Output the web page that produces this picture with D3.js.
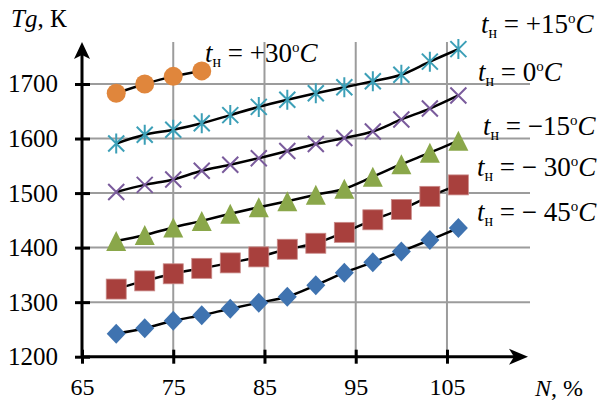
<!DOCTYPE html>
<html>
<head>
<meta charset="utf-8">
<script src="https://cdn.jsdelivr.net/npm/d3@7"></script>
</head>
<body style="margin:0;background:#fff">
<svg id="chart" width="598" height="401"></svg>
<script>
// engine load, %
const loads = [68.75, 71.875, 75, 78.125, 81.25, 84.375, 87.5, 90.625, 93.75, 96.875, 100, 103.125, 106.25];

// gas temperature Tg, K, for each ambient temperature
const tgPlus30 = [1683, 1700, 1714, 1724];
const tgPlus15 = [1591, 1607, 1616, 1628, 1643, 1658, 1671, 1683, 1694, 1705, 1717, 1741, 1764];
const tgZero = [1502, 1515, 1525, 1541, 1552, 1564, 1577, 1590, 1601, 1613, 1635, 1655, 1679];
const tgMinus15 = [1412, 1423, 1437, 1449, 1462, 1474, 1485, 1497, 1508, 1530, 1553, 1574, 1596];
const tgMinus30 = [1324, 1339, 1352, 1362, 1372, 1383, 1397, 1408, 1428, 1451, 1470, 1494, 1515];
const tgMinus45 = [1242, 1252, 1266, 1276, 1288, 1299, 1310, 1331, 1354, 1373, 1393, 1414, 1436];

const xTicks = [65, 75, 85, 95, 105];
const yTicks = [1200, 1300, 1400, 1500, 1600, 1700];

const series = [
  { values: tgMinus45, marker: "diamond", color: "#3f73b0", label: ["= \u2212 45", "C"] },
  { values: tgMinus30, marker: "square", color: "#a8403d", label: ["= \u2212 30", "C"] },
  { values: tgMinus15, marker: "triangle", color: "#8aa74a", label: ["= \u221215", "C"] },
  { values: tgZero, marker: "x", color: "#7a5b9c", label: ["= 0", "C"] },
  { values: tgPlus15, marker: "star", color: "#3c9fb7", label: ["= +15", "C"] },
  { values: tgPlus30, marker: "circle", color: "#e0863c", label: ["= +30", "C"] }
];

// where each label sits (text start x, baseline y), same order as series
const labelPos = [[477, 221], [477, 176], [483, 135], [478, 81], [481, 33], [205, 62]];

const FONT = '"Liberation Serif"';

const svg = d3.select("#chart");
const x0 = 82, xEnd = 530, y0 = 356.7, yTop = 42;

const x = d3.scaleLinear().domain([65, 114.1]).range([x0, xEnd]);
const y = d3.scaleLinear().domain([1200, 1777]).range([y0, yTop]);

// grid
svg.append("g")
  .selectAll("line")
  .data(yTicks.slice(1))
  .join("line")
  .attr("x1", x0).attr("x2", xEnd)
  .attr("y1", d => y(d)).attr("y2", d => y(d))
  .attr("stroke", "#9c9c9c").attr("stroke-width", 2);

svg.append("g")
  .selectAll("line")
  .data(xTicks.slice(1))
  .join("line")
  .attr("x1", d => x(d)).attr("x2", d => x(d))
  .attr("y1", y0).attr("y2", yTop)
  .attr("stroke", "#9c9c9c").attr("stroke-width", 2);

// axes
const xAxis = svg.append("g")
  .attr("transform", `translate(0,${y0})`)
  .call(d3.axisBottom(x).tickValues(xTicks).tickFormat(d3.format("d")).tickSize(7).tickPadding(14));
xAxis.attr("font-family", null);
xAxis.select(".domain").remove();
xAxis.selectAll(".tick line").attr("y1", -7).attr("y2", 7).attr("stroke-width", 3);
xAxis.selectAll(".tick text").style("font-family", FONT).style("font-size", "24px").attr("fill", "#000");

const yAxis = svg.append("g")
  .attr("transform", `translate(${x0},0)`)
  .call(d3.axisLeft(y).tickValues(yTicks).tickFormat(d3.format("d")).tickSize(7).tickPadding(17));
yAxis.attr("font-family", null);
yAxis.select(".domain").remove();
yAxis.selectAll(".tick line").attr("x1", -7).attr("x2", 8).attr("stroke-width", 3);
yAxis.selectAll(".tick text").style("font-family", FONT).style("font-size", "25px").attr("fill", "#000");

svg.append("line")
  .attr("x1", x0).attr("x2", xEnd - 8).attr("y1", y0).attr("y2", y0)
  .attr("stroke", "#000").attr("stroke-width", 3);
svg.append("line")
  .attr("x1", x0).attr("x2", x0).attr("y1", y0).attr("y2", yTop + 8)
  .attr("stroke", "#000").attr("stroke-width", 3);

// arrow heads
svg.append("path")
  .attr("d", `M${x0},${yTop} L${x0 + 8},${yTop + 17} L${x0},${yTop + 13} L${x0 - 8},${yTop + 17} Z`)
  .attr("fill", "#000");
svg.append("path")
  .attr("d", `M${xEnd - 2},${y0} L${xEnd - 21},${y0 - 8} L${xEnd - 16},${y0} L${xEnd - 21},${y0 + 8} Z`)
  .attr("fill", "#000");

// axis titles
const yt = svg.append("text").attr("x", 11).attr("y", 27)
  .style("font-family", FONT).style("font-size", "25px");
yt.append("tspan").style("font-style", "italic").text("Tg");
yt.append("tspan").text(", \u041a");

const xt = svg.append("text").attr("x", 535).attr("y", 396)
  .style("font-family", FONT).style("font-size", "24px");
xt.append("tspan").style("font-style", "italic").text("N");
xt.append("tspan").text(", %");

// lines
const line = d3.line()
  .x((d, i) => x(loads[i]))
  .y(d => y(d))
  .curve(d3.curveCatmullRom.alpha(0.5));

svg.append("g")
  .selectAll("path")
  .data(series)
  .join("path")
  .attr("d", s => line(s.values))
  .attr("fill", "none")
  .attr("stroke", "#000")
  .attr("stroke-width", 2.5);

// markers
function drawMarker(g, type, color) {
  if (type === "circle") {
    g.append("circle").attr("r", 9.5).attr("fill", color);
  } else if (type === "square") {
    g.append("rect").attr("x", -10).attr("y", -10).attr("width", 20).attr("height", 20)
      .attr("fill", color).attr("stroke", "#c98a88").attr("stroke-width", 0.8);
  } else if (type === "diamond") {
    g.append("path").attr("d", "M0,-10 L9.5,0 L0,10 L-9.5,0 Z").attr("fill", color);
  } else if (type === "triangle") {
    g.append("path").attr("d", "M0,-10 L10,10 L-10,10 Z").attr("fill", color);
  } else if (type === "x") {
    g.append("path").attr("d", "M-8,-8 L8,8 M-8,8 L8,-8")
      .attr("stroke", color).attr("stroke-width", 2);
  } else if (type === "star") {
    g.append("path").attr("d", "M-8,-8 L8,8 M-8,8 L8,-8 M0,-10 L0,10")
      .attr("stroke", color).attr("stroke-width", 2);
  }
}

series.forEach(s => {
  const g = svg.append("g");
  s.values.forEach((v, i) => {
    const m = g.append("g").attr("transform", `translate(${x(loads[i])},${y(v)})`);
    drawMarker(m, s.marker, s.color);
  });
});

// series labels
series.forEach((s, i) => {
  const [lx, ly] = labelPos[i];
  const t = svg.append("text").attr("x", lx).attr("y", ly)
    .style("font-family", FONT).style("font-size", "27px");
  t.append("tspan").style("font-style", "italic").text("t");
  t.append("tspan").style("font-size", "16px").attr("dy", 5).text("\u043d");
  t.append("tspan").attr("dy", -5).text(" " + s.label[0]);
  t.append("tspan").style("font-size", "15px").attr("dy", -10).text("o");
  t.append("tspan").attr("dy", 10).style("font-style", "italic").text(s.label[1]);
});
</script>
</body>
</html>
